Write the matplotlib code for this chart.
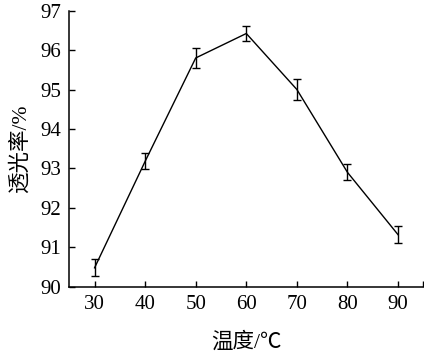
import numpy as np
import matplotlib
matplotlib.use('Agg')
import matplotlib.pyplot as plt

plt.rcParams['font.family'] = ['Liberation Serif', 'Noto Sans CJK SC', 'DejaVu Sans']

# temperature (deg C) vs transmittance (%)
temps = [30, 40, 50, 60, 70, 80, 90]
trans = [90.48, 93.18, 95.80, 96.42, 95.00, 92.90, 91.32]
errs = [0.22, 0.2, 0.26, 0.2, 0.27, 0.2, 0.22]
xticks = [30, 40, 50, 60, 70, 80, 90]
yticks = [90, 91, 92, 93, 94, 95, 96, 97]

fig = plt.figure(figsize=(4.24, 3.54), dpi=100)
ax = fig.add_axes([0.1634, 0.19, 0.835, 0.78])

ax.errorbar(temps, trans, yerr=errs, color='black', linewidth=1.0,
            elinewidth=1.0, capsize=3, capthick=1.0)

ax.set_xlim(25, 95)
ax.set_ylim(90, 97)
ax.set_xticks(xticks + [95])
ax.set_xticklabels([str(t) for t in xticks] + [''])
ax.set_yticks(yticks)
ax.set_yticklabels([str(t) for t in yticks])

for side in ('top', 'right'):
    ax.spines[side].set_visible(False)
for side in ('left', 'bottom'):
    ax.spines[side].set_linewidth(1.1)

ax.tick_params(direction='in', length=4, width=1.0, labelsize=15, pad=6)

ax.set_xlabel('温度/℃', fontsize=15.5, labelpad=13)
ax.set_ylabel('透光率/%', fontsize=15.5, labelpad=7)

fig.savefig('out.png', dpi=100)
